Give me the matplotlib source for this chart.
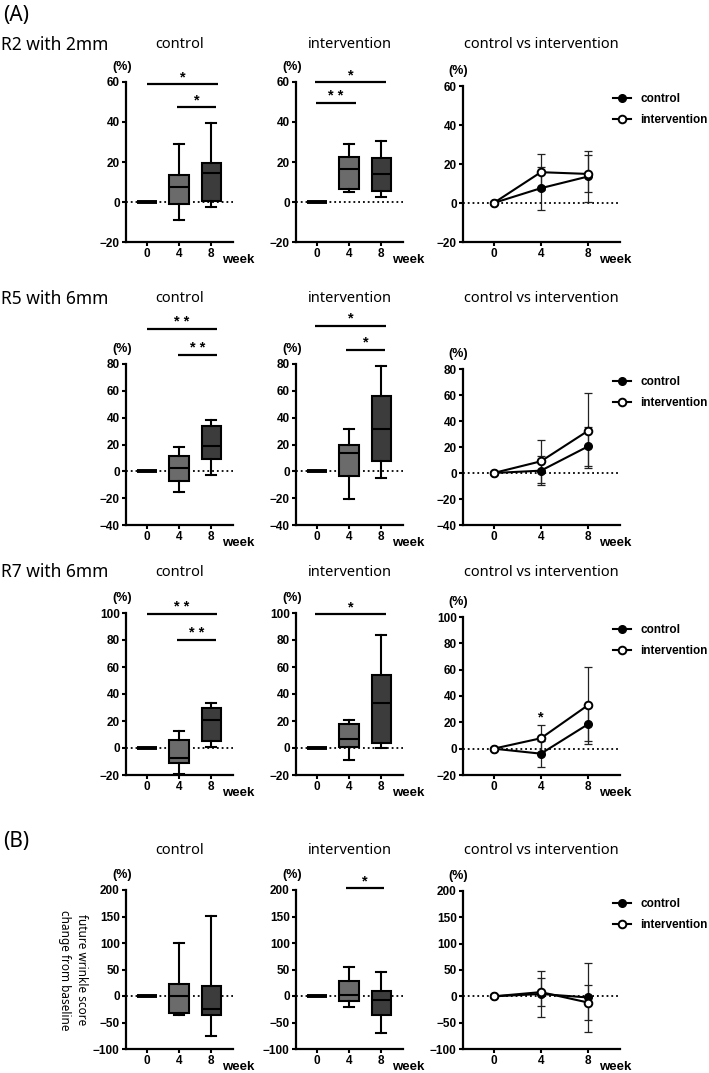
import matplotlib
matplotlib.use("Agg")
import matplotlib.pyplot as plt

# figure size in pixels (dpi 100)
W, H = 709, 1073

plt.rcParams['font.family'] = ['Liberation Sans', 'DejaVu Sans']
plt.rcParams['font.weight'] = 'bold'
TITLE_FONT = ['Noto Sans', 'DejaVu Sans']

weeks = [0, 4, 8]
week_labels = ['0', '4', '8']

# box plots: per week [whisker low, Q1, median, Q3, whisker high]
r2_control = [[0, 0, 0, 0, 0], [-9.2, -0.8, 7.5, 13.7, 28.9], [-2.5, 0.3, 14.5, 19.7, 39.6]]
r2_interv = [[0, 0, 0, 0, 0], [5.0, 6.6, 16.5, 22.7, 28.9], [2.4, 5.7, 14.0, 21.8, 30.6]]
r5_control = [[0, 0, 0, 0, 0], [-15.5, -7.0, 2.7, 11.6, 17.8], [-3.0, 9.2, 18.6, 33.5, 38.5]]
r5_interv = [[0, 0, 0, 0, 0], [-20.5, -3.8, 13.7, 20.0, 31.5], [-4.7, 7.7, 31.7, 56.5, 78.3]]
r7_control = [[0, 0, 0, 0, 0], [-18.9, -11.0, -7.1, 5.7, 12.3], [0.7, 4.9, 20.9, 29.8, 33.7]]
r7_interv = [[0, 0, 0, 0, 0], [-9.1, 0.7, 6.9, 17.5, 20.4], [0.3, 3.7, 33.7, 54.0, 83.7]]
fw_control = [[0, 0, 0, 0, 0], [-36.4, -32.6, 0.0, 22.0, 100.4], [-75.0, -36.0, -24.5, 18.8, 150.7]]
fw_interv = [[0, 0, 0, 0, 0], [-20.7, -9.4, 1.3, 28.2, 55.2], [-70.3, -36.4, -7.5, 9.4, 45.0]]

# mean and SD for the control vs intervention panels
r2_ctrl_mean, r2_ctrl_sd = [0, 7.6, 13.6], [0, 11.0, 13.2]
r2_int_mean, r2_int_sd = [0, 15.8, 14.9], [0, 9.2, 9.5]
r5_ctrl_mean, r5_ctrl_sd = [0, 1.8, 20.5], [0, 11.0, 15.0]
r5_int_mean, r5_int_sd = [0, 9.0, 32.5], [0, 16.6, 28.9]
r7_ctrl_mean, r7_ctrl_sd = [0, -3.8, 18.6], [0, 10.0, 12.7]
r7_int_mean, r7_int_sd = [0, 7.9, 33.1], [0, 10.2, 29.3]
fw_ctrl_mean, fw_ctrl_sd = [0, 4.5, -2.2], [0, 44.0, 64.6]
fw_int_mean, fw_int_sd = [0, 8.0, -11.8], [0, 26.0, 34.0]

# significance bars: (x start, x end, y, label)
r2_control_sig = [(0, 8.8, 59, '*'), (3.8, 8.6, 47.5, '*')]
r2_interv_sig = [(-0.2, 8.6, 60, '*'), (-0.1, 4.8, 49.5, '* *')]
r5_control_sig = [(0, 8.7, 106, '* *'), (3.9, 8.7, 86.7, '* *')]
r5_interv_sig = [(-0.2, 8.6, 108.5, '*'), (3.6, 8.5, 90.5, '*')]
r7_control_sig = [(0, 8.7, 99, '* *'), (3.7, 8.6, 80, '* *')]
r7_interv_sig = [(-0.2, 8.6, 99, '*')]
fw_interv_sig = [(3.6, 8.4, 203, '*')]
r7_line_star = (4, 24, '*')

box_colors = ['#555555', '#6b6b6b', '#3c3c3c']


def add_axes_px(l, t, r, b):
    return fig.add_axes([l / W, 1 - b / H, (r - l) / W, (b - t) / H])


def style_axes(ax, ylim, yticks, pct_dx):
    ax.set_xlim(-2.6, 10.7)
    ax.set_ylim(*ylim)
    ax.set_yticks(yticks)
    ax.set_xticks(weeks)
    ax.set_xticklabels(week_labels)
    for s in ['top', 'right']:
        ax.spines[s].set_visible(False)
    for s in ['left', 'bottom']:
        ax.spines[s].set_linewidth(1.6)
    ax.tick_params(direction='out', length=3, width=1.5, labelsize=8.5, pad=1.5)
    ax.axhline(0, color='black', ls=':', lw=1.3, zorder=1)
    ax.annotate('(%)', xy=(0, 1), xycoords='axes fraction', xytext=(pct_dx, 15),
                textcoords='offset pixels', ha='center', va='center', fontsize=9)
    ax.annotate('week', xy=(8, 0), xycoords=('data', 'axes fraction'), xytext=(11, -18),
                textcoords='offset pixels', ha='left', va='center', fontsize=9.5)


def box_panel(ax, stats, sigs):
    bstats = [dict(whislo=s[0], q1=s[1], med=s[2], q3=s[3], whishi=s[4], fliers=[]) for s in stats]
    res = ax.bxp(bstats, positions=weeks, widths=2.4, patch_artist=True, showfliers=False,
                 boxprops=dict(linewidth=1.5, edgecolor='black'),
                 medianprops=dict(color='black', linewidth=1.5),
                 whiskerprops=dict(color='black', linewidth=1.5),
                 capprops=dict(color='black', linewidth=1.5),
                 capwidths=1.2, manage_ticks=False, zorder=3)
    for patch, c in zip(res['boxes'], box_colors):
        patch.set_facecolor(c)
    res['boxes'][0].set_linewidth(2.8)
    for x0, x1, y, lab in sigs:
        ax.plot([x0, x1], [y, y], color='black', lw=1.6, clip_on=False, solid_capstyle='butt')
        ax.annotate(lab, xy=((x0 + x1) / 2, y), xytext=(0, 0), textcoords='offset points',
                    ha='center', va='bottom', fontsize=10.5, annotation_clip=False)


def line_panel(ax, cm, cs, im, isd, legend_top):
    ax.errorbar(weeks, cm, yerr=cs, fmt='none', ecolor='#222222', elinewidth=0.9,
                capsize=3, capthick=0.9, zorder=2)
    ax.errorbar(weeks, im, yerr=isd, fmt='none', ecolor='#222222', elinewidth=0.9,
                capsize=3, capthick=0.9, zorder=2)
    lc, = ax.plot(weeks, cm, '-o', color='black', lw=1.5, ms=5.5, mfc='black', zorder=3,
                  label='control')
    li, = ax.plot(weeks, im, '-o', color='black', lw=1.5, ms=5.5, mfc='white', mew=1.4,
                  zorder=4, label='intervention')
    ax.legend(handles=[lc, li], loc='upper left', bbox_to_anchor=(613 / W, 1 - legend_top / H),
              bbox_transform=fig.transFigure, frameon=False, fontsize=8.5, borderpad=0,
              borderaxespad=0, handlelength=1.5, handletextpad=0.8, labelspacing=0.75)


fig = plt.figure(figsize=(W / 100, H / 100), dpi=100)

cols = [(126, 233), (296, 403), (463, 620)]
rows = [
    dict(t=82, b=242, t3=86, ylim=(-20, 60), yt=[-20, 0, 20, 40, 60], label='R2 with 2mm', ty=45,
         boxes=(r2_control, r2_interv), sigs=(r2_control_sig, r2_interv_sig),
         lines=(r2_ctrl_mean, r2_ctrl_sd, r2_int_mean, r2_int_sd)),
    dict(t=364, b=525, t3=369, ylim=(-40, 80), yt=[-40, -20, 0, 20, 40, 60, 80], label='R5 with 6mm', ty=299,
         boxes=(r5_control, r5_interv), sigs=(r5_control_sig, r5_interv_sig),
         lines=(r5_ctrl_mean, r5_ctrl_sd, r5_int_mean, r5_int_sd)),
    dict(t=613, b=775, t3=617, ylim=(-20, 100), yt=[-20, 0, 20, 40, 60, 80, 100], label='R7 with 6mm', ty=572,
         boxes=(r7_control, r7_interv), sigs=(r7_control_sig, r7_interv_sig),
         lines=(r7_ctrl_mean, r7_ctrl_sd, r7_int_mean, r7_int_sd)),
    dict(t=890, b=1049, t3=891, ylim=(-100, 200), yt=[-100, -50, 0, 50, 100, 150, 200], label=None, ty=850,
         boxes=(fw_control, fw_interv), sigs=([], fw_interv_sig),
         lines=(fw_ctrl_mean, fw_ctrl_sd, fw_int_mean, fw_int_sd)),
]
titles = ['control', 'intervention', 'control vs intervention']

for i, row in enumerate(rows):
    for j, (l, r) in enumerate(cols):
        t = row['t3'] if j == 2 else row['t']
        ax = add_axes_px(l, t, r, row['b'])
        style_axes(ax, row['ylim'], row['yt'], -5 if j == 2 else -4)
        if j < 2:
            box_panel(ax, row['boxes'][j], row['sigs'][j])
        else:
            cm, cs, im, isd = row['lines']
            line_panel(ax, cm, cs, im, isd, t + 7)
            if i == 2:
                ax.annotate(r7_line_star[2], xy=r7_line_star[:2], ha='center', va='center',
                            fontsize=10.5)
        fig.text((l + r) / 2 / W, 1 - row['ty'] / H, titles[j], ha='center', va='center',
                 fontsize=10.5, family=TITLE_FONT, fontweight='normal')
    if row['label']:
        fig.text(1 / W, 1 - row['ty'] / H, row['label'], ha='left', va='center',
                 fontsize=12.5, family=TITLE_FONT, fontweight='normal')

fig.text(3 / W, 1 - 16 / H, '(A)', ha='left', va='center', fontsize=15, family=TITLE_FONT,
         fontweight='normal')
fig.text(3 / W, 1 - 842 / H, '(B)', ha='left', va='center', fontsize=15, family=TITLE_FONT,
         fontweight='normal')
fig.text(73 / W, 1 - 970 / H, 'future wrinkle score\nchange from baseline', rotation=270,
         ha='center', va='center', fontsize=8.5, family=TITLE_FONT, fontweight='normal',
         linespacing=1.35)

fig.savefig('out.png', dpi=100)
